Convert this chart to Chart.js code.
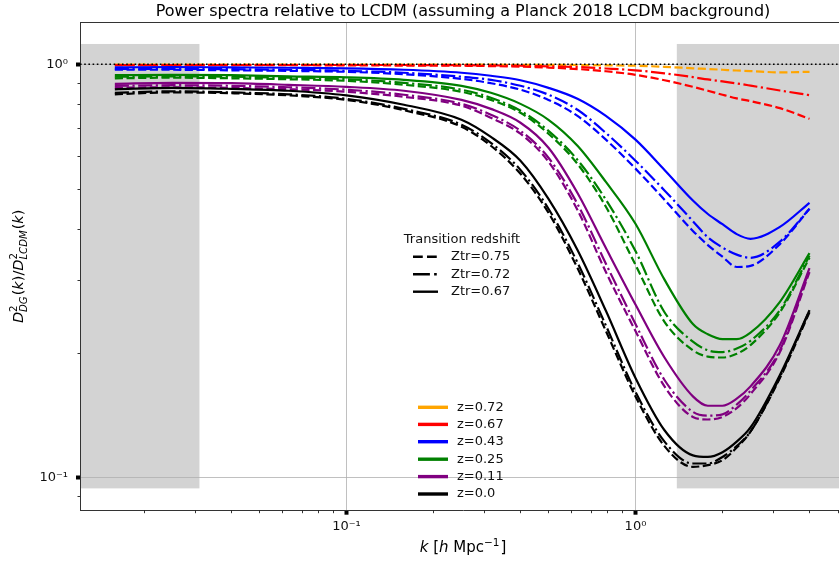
<!DOCTYPE html>
<html>
<head>
<meta charset="utf-8">
<script src="https://cdn.jsdelivr.net/npm/chart.js@4.4.0/dist/chart.umd.min.js"></script>
<style>
  html, body { margin: 0; padding: 0; background: #fff; overflow: hidden; }
  #wrap { width: 870px; height: 562px; }
</style>
</head>
<body>
<div id="wrap"><canvas id="spectra" width="870" height="562"></canvas></div>
<script>
// wavenumbers k [h/Mpc]
const kValues = [0.0158, 0.025, 0.04, 0.063, 0.1, 0.158, 0.25, 0.316, 0.4, 0.5, 0.63, 0.79,
                 1.0, 1.26, 1.58, 1.78, 2.0, 2.24, 2.5, 3.16, 4.0];

// D^2_DG / D^2_LCDM for each redshift z and transition redshift Ztr
const z072_ztr075 = [0.998, 0.998, 0.998, 0.998, 0.998, 0.998, 0.998, 0.998, 0.997, 0.997, 0.996, 0.994, 0.992, 0.986, 0.978, 0.974, 0.970, 0.966, 0.963, 0.956, 0.959];
const z067_ztr075 = [0.995, 0.995, 0.995, 0.995, 0.994, 0.993, 0.992, 0.990, 0.987, 0.982, 0.974, 0.962, 0.943, 0.915, 0.882, 0.863, 0.844, 0.827, 0.814, 0.783, 0.738];
const z067_ztr072 = [0.996, 0.996, 0.996, 0.996, 0.996, 0.996, 0.995, 0.994, 0.992, 0.989, 0.985, 0.977, 0.967, 0.951, 0.931, 0.919, 0.909, 0.899, 0.888, 0.864, 0.842];
const z043_ztr075 = [0.970, 0.970, 0.967, 0.964, 0.959, 0.946, 0.922, 0.900, 0.868, 0.820, 0.750, 0.657, 0.559, 0.470, 0.395, 0.365, 0.342, 0.323, 0.325, 0.367, 0.447];
const z043_ztr072 = [0.975, 0.975, 0.973, 0.970, 0.964, 0.954, 0.933, 0.917, 0.887, 0.844, 0.776, 0.682, 0.584, 0.495, 0.417, 0.381, 0.360, 0.346, 0.340, 0.372, 0.447];
const z043_ztr067 = [0.983, 0.985, 0.983, 0.981, 0.978, 0.970, 0.954, 0.938, 0.915, 0.877, 0.825, 0.750, 0.657, 0.555, 0.468, 0.434, 0.410, 0.388, 0.378, 0.404, 0.462];
const z025_ztr075 = [0.925, 0.928, 0.925, 0.920, 0.912, 0.892, 0.858, 0.820, 0.763, 0.679, 0.574, 0.452, 0.327, 0.238, 0.203, 0.196, 0.195, 0.199, 0.209, 0.251, 0.340];
const z025_ztr072 = [0.933, 0.935, 0.933, 0.928, 0.920, 0.902, 0.868, 0.830, 0.772, 0.690, 0.587, 0.470, 0.353, 0.251, 0.213, 0.203, 0.201, 0.205, 0.214, 0.254, 0.344];
const z025_ztr067 = [0.941, 0.943, 0.941, 0.935, 0.930, 0.917, 0.887, 0.853, 0.802, 0.734, 0.635, 0.519, 0.411, 0.301, 0.235, 0.222, 0.216, 0.216, 0.224, 0.266, 0.349];
const z011_ztr075 = [0.877, 0.880, 0.877, 0.870, 0.858, 0.834, 0.794, 0.742, 0.679, 0.581, 0.444, 0.314, 0.226, 0.166, 0.140, 0.138, 0.140, 0.147, 0.159, 0.201, 0.314];
const z011_ztr072 = [0.887, 0.890, 0.887, 0.880, 0.868, 0.844, 0.802, 0.755, 0.690, 0.594, 0.459, 0.329, 0.235, 0.172, 0.144, 0.141, 0.142, 0.150, 0.162, 0.203, 0.318];
const z011_ztr067 = [0.897, 0.902, 0.900, 0.892, 0.882, 0.863, 0.820, 0.780, 0.722, 0.628, 0.488, 0.359, 0.262, 0.195, 0.157, 0.149, 0.149, 0.155, 0.166, 0.209, 0.321];
const z000_ztr075 = [0.846, 0.855, 0.851, 0.841, 0.820, 0.774, 0.706, 0.635, 0.543, 0.437, 0.321, 0.226, 0.157, 0.119, 0.106, 0.107, 0.110, 0.118, 0.129, 0.174, 0.251];
const z000_ztr072 = [0.853, 0.860, 0.855, 0.846, 0.825, 0.780, 0.714, 0.645, 0.555, 0.447, 0.331, 0.233, 0.161, 0.122, 0.108, 0.108, 0.112, 0.119, 0.129, 0.175, 0.253];
const z000_ztr067 = [0.870, 0.877, 0.872, 0.863, 0.841, 0.798, 0.734, 0.667, 0.584, 0.472, 0.355, 0.253, 0.174, 0.130, 0.113, 0.112, 0.115, 0.122, 0.132, 0.177, 0.254];

const zLabels = ['z=0.72', 'z=0.67', 'z=0.43', 'z=0.25', 'z=0.11', 'z=0.0'];
const zColors = ['orange', 'red', 'blue', 'green', 'purple', 'black'];
const ztrLabels = ['Ztr=0.75', 'Ztr=0.72', 'Ztr=0.67'];

const xTickValues = [0.1, 1];
const xTickLabels = ['10\u207B\u00B9', '10\u2070'];
const yTickValues = [0.1, 1];
const yTickLabels = ['10\u207B\u00B9', '10\u2070'];

const xRange = [0.01197, 5.35];
const yRange = [0.083, 1.266];
const lowKBand = [0.01197, 0.031];
const highKBand = [1.39, 5.35];
const bandY = [0.094, 1.12];

// [values, z index, ztr index]
const curves = [
  [z072_ztr075, 0, 0],
  [z067_ztr075, 1, 0], [z067_ztr072, 1, 1],
  [z043_ztr075, 2, 0], [z043_ztr072, 2, 1], [z043_ztr067, 2, 2],
  [z025_ztr075, 3, 0], [z025_ztr072, 3, 1], [z025_ztr067, 3, 2],
  [z011_ztr075, 4, 0], [z011_ztr072, 4, 1], [z011_ztr067, 4, 2],
  [z000_ztr075, 5, 0], [z000_ztr072, 5, 1], [z000_ztr067, 5, 2],
];

const LW = 2.2;
const dashes = [[3.7 * LW, 1.6 * LW], [6.4 * LW, 1.6 * LW, 1 * LW, 1.6 * LW], []];
const FONT = "'DejaVu Sans', sans-serif";

const datasets = curves.map(([vals, zi, ti], i) => ({
  label: zLabels[zi] + ' ' + ztrLabels[ti],
  data: kValues.map((k, j) => ({ x: k, y: vals[j] })),
  borderColor: zColors[zi],
  borderWidth: LW,
  borderDash: dashes[ti],
  borderCapStyle: 'butt',
  cubicInterpolationMode: 'monotone',
  pointRadius: 0,
  fill: false,
  order: 100 - i,
}));

// reference line at unity
datasets.push({
  label: 'unity',
  data: [{ x: xRange[0], y: 1 }, { x: xRange[1], y: 1 }],
  borderColor: 'black',
  borderWidth: 1.6,
  borderDash: [1.6, 2.6],
  pointRadius: 0,
  order: 0,
});

function measureRich(ctx, parts, size) {
  let w = 0;
  const small = size * 0.7;
  for (const p of parts) {
    if (p.sup !== undefined || p.sub !== undefined) {
      ctx.font = `${small}px ${FONT}`;
      const a = p.sup ? ctx.measureText(p.sup).width : 0;
      ctx.font = `italic ${small}px ${FONT}`;
      const b = p.sub ? ctx.measureText(p.sub).width : 0;
      p._w = Math.max(a, b) + 1;
    } else {
      ctx.font = `${p.it ? 'italic ' : ''}${size}px ${FONT}`;
      p._w = ctx.measureText(p.t).width;
    }
    w += p._w;
  }
  return w;
}

// mixed text with italic parts and stacked super/subscripts, centred on x
function drawRich(ctx, parts, x, y, size) {
  const total = measureRich(ctx, parts, size);
  let cx = x - total / 2;
  const small = size * 0.7;
  ctx.textBaseline = 'alphabetic';
  ctx.textAlign = 'left';
  for (const p of parts) {
    if (p.sup !== undefined || p.sub !== undefined) {
      ctx.font = `${small}px ${FONT}`;
      if (p.sup) ctx.fillText(p.sup, cx, y - size * 0.42);
      ctx.font = `italic ${small}px ${FONT}`;
      if (p.sub) ctx.fillText(p.sub, cx, y + size * 0.26);
    } else {
      ctx.font = `${p.it ? 'italic ' : ''}${size}px ${FONT}`;
      ctx.fillText(p.t, cx, y);
    }
    cx += p._w;
  }
}

const decorations = {
  id: 'decorations',
  beforeDraw(chart) {
    const { ctx, scales: { x, y } } = chart;
    ctx.save();
    ctx.fillStyle = '#d3d3d3';
    for (const band of [lowKBand, highKBand]) {
      const x0 = x.getPixelForValue(band[0]);
      const x1 = x.getPixelForValue(band[1]);
      const y0 = y.getPixelForValue(bandY[1]);
      const y1 = y.getPixelForValue(bandY[0]);
      ctx.fillRect(x0, y0, x1 - x0, y1 - y0);
    }
    ctx.restore();
  },
  afterDraw(chart) {
    const { ctx, chartArea: a, scales: { x, y } } = chart;
    ctx.save();
    // top spine
    ctx.strokeStyle = '#333';
    ctx.lineWidth = 1;
    ctx.beginPath();
    ctx.moveTo(a.left, a.top + 0.5);
    ctx.lineTo(a.right, a.top + 0.5);
    ctx.stroke();

    // minor ticks
    ctx.strokeStyle = '#000';
    ctx.lineWidth = 0.8;
    ctx.beginPath();
    for (let e = -2; e <= 0; e++) {
      for (let m = 2; m <= 9; m++) {
        const v = m * Math.pow(10, e);
        if (v > xRange[0] && v < xRange[1]) {
          const px = Math.round(x.getPixelForValue(v)) + 0.5;
          ctx.moveTo(px, a.bottom);
          ctx.lineTo(px, a.bottom + 2.5);
        }
        if (v > yRange[0] && v < yRange[1]) {
          const py = Math.round(y.getPixelForValue(v)) + 0.5;
          ctx.moveTo(a.left, py);
          ctx.lineTo(a.left - 2.5, py);
        }
      }
    }
    ctx.stroke();

    // title
    ctx.fillStyle = '#000';
    ctx.font = `16px ${FONT}`;
    ctx.textAlign = 'center';
    ctx.textBaseline = 'middle';
    ctx.fillText('Power spectra relative to LCDM (assuming a Planck 2018 LCDM background)', (a.left + a.right) / 2, 11.5);

    // axis labels
    drawRich(ctx, [
      { t: 'k', it: true }, { t: ' [' }, { t: 'h', it: true }, { t: ' Mpc' },
      { sup: '\u22121' }, { t: ']' },
    ], (a.left + a.right) / 2, 552, 15);

    ctx.save();
    ctx.translate(23, (a.top + a.bottom) / 2);
    ctx.rotate(-Math.PI / 2);
    drawRich(ctx, [
      { t: 'D', it: true }, { sup: '2', sub: 'DG' }, { t: '(' }, { t: 'k', it: true }, { t: ')/' },
      { t: 'D', it: true }, { sup: '2', sub: 'LCDM' }, { t: '(' }, { t: 'k', it: true }, { t: ')' },
    ], 0, 0, 14.5);
    ctx.restore();

    // legend: transition redshift line styles
    ctx.font = `13px ${FONT}`;
    ctx.textBaseline = 'middle';
    ctx.textAlign = 'center';
    ctx.fillStyle = '#111';
    ctx.fillText('Transition redshift', 462, 240);
    ctx.textAlign = 'left';
    const ztrRows = [256.7, 274.3, 291.7];
    ztrLabels.forEach((lab, i) => {
      ctx.strokeStyle = 'black';
      ctx.lineWidth = 2.4;
      ctx.lineCap = 'butt';
      ctx.setLineDash(dashes[i].map((d) => d * 1.2));
      ctx.beginPath();
      ctx.moveTo(413, ztrRows[i]);
      ctx.lineTo(438, ztrRows[i]);
      ctx.stroke();
      ctx.setLineDash([]);
      ctx.fillText(lab, 451, ztrRows[i]);
    });

    // legend: redshift colours
    const zRows = [407.3, 424.4, 441.7, 459.2, 476.6, 494];
    zLabels.forEach((lab, i) => {
      ctx.strokeStyle = zColors[i];
      ctx.lineWidth = 3.4;
      ctx.beginPath();
      ctx.moveTo(418, zRows[i]);
      ctx.lineTo(448, zRows[i]);
      ctx.stroke();
      ctx.fillText(lab, 457, zRows[i]);
    });
    ctx.restore();
  },
};

const gridCommon = {
  color: '#b0b0b0',
  lineWidth: 0.8,
  drawTicks: true,
  tickLength: 4,
  tickWidth: 4,
  tickColor: '#000',
};

new Chart(document.getElementById('spectra').getContext('2d'), {
  type: 'line',
  data: { datasets },
  options: {
    responsive: false,
    devicePixelRatio: 1,
    animation: false,
    layout: { padding: { top: 22, right: 24, left: 0, bottom: 0 } },
    plugins: { legend: { display: false }, tooltip: { enabled: false } },
    scales: {
      x: {
        type: 'logarithmic',
        min: xRange[0],
        max: xRange[1],
        grid: gridCommon,
        border: { display: true, color: '#333', width: 1 },
        afterBuildTicks: (s) => { s.ticks = xTickValues.map((v) => ({ value: v, major: true })); },
        afterFit: (s) => { s.height = 51.3; },
        ticks: {
          autoSkip: false,
          maxRotation: 0,
          padding: 4,
          color: '#111',
          font: { family: 'DejaVu Sans', size: 13 },
          callback: (v) => xTickLabels[xTickValues.indexOf(v)] ?? '',
        },
      },
      y: {
        type: 'logarithmic',
        min: yRange[0],
        max: yRange[1],
        grid: gridCommon,
        border: { display: true, color: '#333', width: 1 },
        afterBuildTicks: (s) => { s.ticks = yTickValues.map((v) => ({ value: v, major: true })); },
        afterFit: (s) => { s.width = 80; },
        ticks: {
          autoSkip: false,
          padding: 8,
          color: '#111',
          font: { family: 'DejaVu Sans', size: 13 },
          callback: (v) => yTickLabels[yTickValues.indexOf(v)] ?? '',
        },
      },
    },
  },
  plugins: [decorations],
});
</script>
</body>
</html>
